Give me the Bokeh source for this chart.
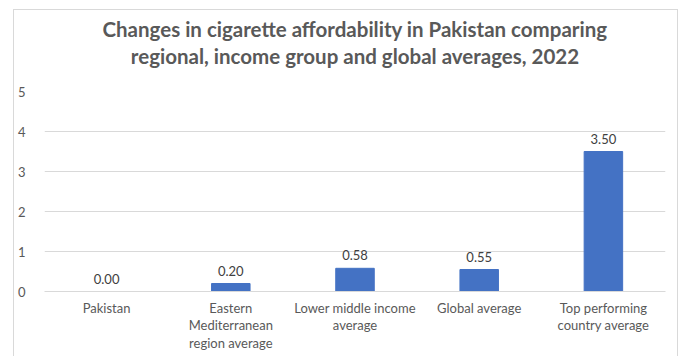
from bokeh.plotting import figure
from bokeh.models import ColumnDataSource, LabelSet, Title, CategoricalAxis
from bokeh.core.properties import value
from bokeh.embed import file_html
from bokeh.resources import INLINE

categories = ["Pakistan", "Eastern\nMediterranean\nregion average",
              "Lower middle income\naverage", "Global average",
              "Top performing\ncountry average"]
values = [0.00, 0.20, 0.58, 0.55, 3.50]
value_labels = ["0.00", "0.20", "0.58", "0.55", "3.50"]
title_lines = ["Changes in cigarette affordability in Pakistan comparing",
               "regional, income group and global averages, 2022"]

src = ColumnDataSource(dict(cat=categories, val=values, lab=value_labels))

p = figure(x_range=categories, y_range=(0, 5), width=665, height=347,
           output_backend="svg", toolbar_location=None,
           min_border_left=28, min_border_right=14, min_border_top=81,
           min_border_bottom=66)
p.title = None

# second title line as the label of an empty top axis
top_ax = CategoricalAxis(axis_label=title_lines[1],
                         axis_label_text_font="Lato",
                         axis_label_text_font_size="20.5px",
                         axis_label_text_font_style="bold",
                         axis_label_text_color="#595959",
                         axis_label_standoff=18,
                         major_label_standoff=0,
                         major_label_text_font_size="0px",
                         major_label_text_color=None,
                         axis_line_color=None, major_tick_line_color=None,
                         minor_tick_line_color=None)
p.add_layout(top_ax, "above")
p.add_layout(Title(text=title_lines[0], align="center", text_font="Lato",
                   text_font_size="20.5px", text_font_style="bold",
                   text_color="#595959", standoff=0), "above")

p.vbar(x="cat", top="val", width=0.31, source=src, color="#4472C4")
p.add_layout(LabelSet(x="cat", y="val", text="lab", source=src, y_offset=8,
                      text_align="center", text_baseline="bottom",
                      text_font=value("Lato"), text_font_size="13px",
                      text_color="#404040"))

p.outline_line_color = None
p.xgrid.grid_line_color = None
p.ygrid.grid_line_color = "#d9d9d9"
p.yaxis.ticker = [0, 1, 2, 3, 4, 5]
for ax in (p.below[0], p.yaxis[0]):
    ax.axis_line_color = None
    ax.major_tick_line_color = None
    ax.minor_tick_line_color = None
    ax.major_label_text_font = "Lato"
    ax.major_label_text_font_size = "13px"
    ax.major_label_text_color = "#595959"
p.below[0].axis_line_color = "#d9d9d9"
p.below[0].major_label_text_line_height = 1.1
p.below[0].major_label_standoff = 2
p.yaxis.major_label_standoff = 13
p.styles = {"margin-left": "13px", "margin-top": "9px",
            "border-left": "1px solid #d9d9d9", "border-top": "1px solid #d9d9d9",
            "border-right": "1px solid #d9d9d9"}

open("out.html", "w").write(file_html(p, INLINE))
